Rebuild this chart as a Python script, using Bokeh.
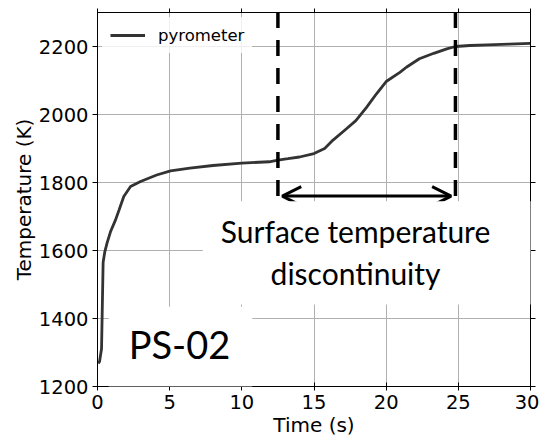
from bokeh.plotting import figure
from bokeh.models import Label, Arrow, OpenHead, LinearAxis, FixedTicker, Range1d
from bokeh.embed import file_html
from bokeh.resources import INLINE

# --- data -----------------------------------------------------------------
time_s = [0.05, 0.14, 0.28, 0.39, 0.5, 0.67, 0.9, 1.25, 1.5, 1.82, 2.29, 2.98,
          4.1, 5.06, 6.4, 8.0, 10.0, 11.9, 12.5, 13.2, 14.0, 15.0, 15.74, 16.3,
          17.25, 17.9, 18.64, 19.33, 20.0, 20.95, 21.4, 22.3, 23.3, 24.2,
          24.8, 25.8, 27.0, 28.5, 30.0]
temp_k = [1268, 1273, 1311, 1565, 1595, 1623, 1655, 1690, 1720, 1759, 1788, 1803,
          1822, 1834, 1842, 1850, 1857, 1861, 1866, 1870, 1875, 1885, 1900, 1924,
          1958, 1982, 2021, 2061, 2097, 2124, 2139, 2164, 2180, 2193,
          2200, 2203, 2205, 2207, 2209]

series_label = "pyrometer"
x_ticks = [0, 5, 10, 15, 20, 25, 30]
y_ticks = [1200, 1400, 1600, 1800, 2000, 2200]

disc_times = [12.5, 24.8]          # dashed markers
disc_bottom = 1760
arrow_x = [12.8, 24.5]
arrow_y = 1760
note_text = "Surface temperature\ndiscontinuity"
note_pos = (18.85, 1593)
sample_text = "PS-02"
sample_pos = (5.75, 1317)

# --- figure ---------------------------------------------------------------
p = figure(width=539, height=439, output_backend="svg", toolbar_location=None,
           x_range=Range1d(0, 30), y_range=Range1d(1200, 2300),
           min_border_left=97, min_border_right=9, min_border_top=12,
           min_border_bottom=51)
p.background_fill_color = "white"
p.border_fill_color = "white"
p.outline_line_color = "black"
p.outline_line_width = 1

FONT = "DejaVu Sans"
for ax in (p.xaxis[0], p.yaxis[0]):
    ax.axis_line_color = "black"
    ax.major_tick_line_color = "black"
    ax.minor_tick_line_color = None
    ax.major_label_text_font = FONT
    ax.major_label_text_font_size = "19.5px"
    ax.major_label_text_color = "black"
    ax.axis_label_text_font = FONT
    ax.axis_label_text_font_size = "20px"
    ax.axis_label_text_font_style = "normal"
    ax.axis_label_text_color = "black"

p.xaxis[0].ticker = FixedTicker(ticks=x_ticks)
p.yaxis[0].ticker = FixedTicker(ticks=y_ticks)
p.xaxis[0].axis_label = "Time (s)"
p.yaxis[0].axis_label = "Temperature (K)"
p.xaxis[0].major_tick_in = 4
p.xaxis[0].major_tick_out = 4
p.xaxis[0].major_label_standoff = 4
p.xaxis[0].axis_label_standoff = 1
p.yaxis[0].major_tick_in = 0
p.yaxis[0].major_tick_out = 5
p.yaxis[0].major_label_standoff = 4
p.yaxis[0].axis_label_standoff = 0

top_ax = LinearAxis(ticker=FixedTicker(ticks=x_ticks),
                    major_label_overrides={t: "" for t in x_ticks},
                    major_tick_in=0, major_tick_out=4, minor_tick_line_color=None,
                    axis_line_color="black", major_tick_line_color="black")
right_ax = LinearAxis(ticker=FixedTicker(ticks=y_ticks),
                      major_label_overrides={t: "" for t in y_ticks},
                      major_tick_in=0, major_tick_out=5, minor_tick_line_color=None,
                      axis_line_color="black", major_tick_line_color="black")
p.add_layout(top_ax, "above")
p.add_layout(right_ax, "right")

p.xgrid.ticker = FixedTicker(ticks=x_ticks)
p.ygrid.ticker = FixedTicker(ticks=y_ticks)
for g in (p.xgrid[0], p.ygrid[0]):
    g.grid_line_color = "#b0b0b0"
    g.grid_line_width = 1

# --- data line ------------------------------------------------------------
p.line(time_s, temp_k, line_color="#333333", line_width=2.8, legend_label=series_label)

# dashed markers
p.segment(x0=disc_times, y0=[disc_bottom] * len(disc_times),
          x1=disc_times, y1=[2300] * len(disc_times),
          line_color="black", line_width=3.5, line_dash="16 12")

p.add_layout(Arrow(start=OpenHead(size=19, line_width=3, line_color="black"),
                   end=OpenHead(size=19, line_width=3, line_color="black"),
                   x_start=arrow_x[0], x_end=arrow_x[1], y_start=arrow_y, y_end=arrow_y,
                   line_width=3, line_color="black"))

p.add_layout(Label(x=note_pos[0], y=note_pos[1], text=note_text,
                   text_align="center", text_baseline="middle",
                   text_font="Lato", text_font_size="30px", text_color="black",
                   text_line_height=1.15,
                   background_fill_color="white", background_fill_alpha=1.0,
                   padding=dict(left=18, right=46, top=12, bottom=14)))

p.add_layout(Label(x=sample_pos[0], y=sample_pos[1], text=sample_text,
                   text_align="center", text_baseline="middle",
                   text_font="Lato", text_font_size="38px", text_color="black",
                   background_fill_color="white", background_fill_alpha=1.0,
                   padding=dict(left=20, right=22, top=14, bottom=20)))

# legend
lg = p.legend[0]
lg.location = "top_left"
lg.margin = 5
lg.padding = 8
lg.border_line_alpha = 0
lg.background_fill_color = "white"
lg.background_fill_alpha = 0.8
lg.label_text_font = FONT
lg.label_text_font_size = "16.5px"
lg.label_text_color = "black"
lg.glyph_width = 35
lg.label_standoff = 13

open("out.html", "w").write(file_html(p, INLINE))
